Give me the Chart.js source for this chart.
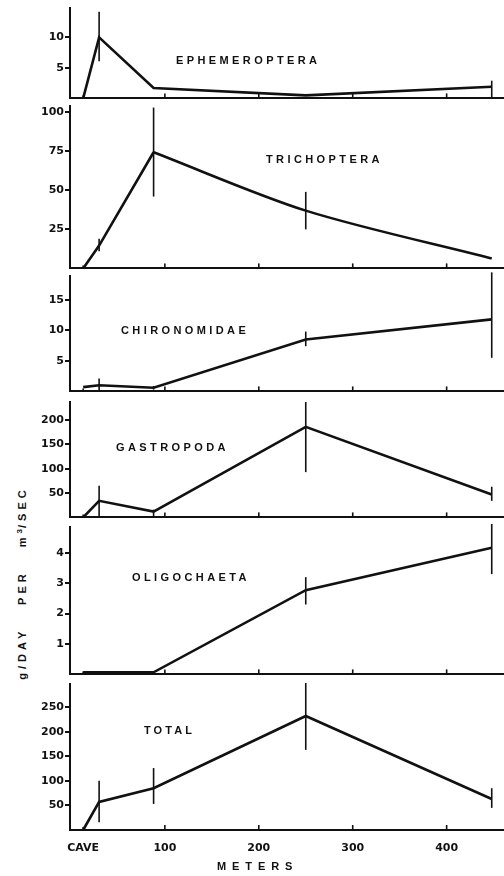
<!DOCTYPE html>
<html>
<head>
<meta charset="utf-8">
<title>Drift by distance from cave</title>
<script src="https://cdn.jsdelivr.net/npm/chart.js@4.4.1/dist/chart.umd.min.js"></script>
<style>
  html, body { margin: 0; padding: 0; background: #fff; }
  #fig { position: relative; width: 504px; height: 876px; overflow: hidden;
         font-family: "Liberation Sans", Arial, sans-serif; color: #111; }
  #fig canvas { position: absolute; left: 0; }
  .lbl { position: absolute; font-weight: bold; font-size: 11px; line-height: 11px;
         letter-spacing: 3.4px; white-space: pre; }
  #ytitle { position: absolute; left: 21px; top: 583px; font-weight: bold; font-size: 11px;
            line-height: 11px; letter-spacing: 4px; word-spacing: 16px; white-space: pre;
            transform: translate(-50%, -50%) rotate(-90deg); }
  #ytitle sup { font-size: 8px; letter-spacing: 1px; }
</style>
</head>
<body>
<div id="fig">
  <div id="ytitle">g/DAY PER m<sup>3</sup>/SEC</div>
</div>
<script>
// distancias de muestreo (m); la primera es la boca de la cueva
const DISTANCES = [13, 30, 88, 250, 448];
const X_TICKS = [13, 100, 200, 300, 400];
const CAVE_POS = 13;

// valores g/dia por m3/seg, y barras de error [bajo, alto]
const EPHEMEROPTERA = [0, 10, 1.7, 0.5, 1.9];
const EPHEMEROPTERA_ERR = [null, [6.1, 14.2], null, null, [0.2, 2.9]];
const EPHEMEROPTERA_TICKS = [5, 10];

const TRICHOPTERA = [0, 14.6, 74.4, 37, 6.4];
const TRICHOPTERA_ERR = [null, [11, 19], [46, 103], [25, 49], null];
const TRICHOPTERA_TICKS = [25, 50, 75, 100];

const CHIRONOMIDAE = [0.7, 1.0, 0.6, 8.5, 11.8];
const CHIRONOMIDAE_ERR = [null, [0, 2.1], [0.3, 0.9], [7.4, 9.8], [5.5, 19.5]];
const CHIRONOMIDAE_TICKS = [5, 10, 15];

const GASTROPODA = [0, 34, 12, 186, 47];
const GASTROPODA_ERR = [null, [0, 65], [2, 16], [93, 237], [34, 63]];
const GASTROPODA_TICKS = [50, 100, 150, 200];

const OLIGOCHAETA = [0.07, 0.07, 0.07, 2.77, 4.17];
const OLIGOCHAETA_ERR = [null, null, null, [2.3, 3.2], [3.3, 4.95]];
const OLIGOCHAETA_TICKS = [1, 2, 3, 4];

const TOTAL = [0, 57, 85, 232, 63];
const TOTAL_ERR = [null, [16, 100], [53, 126], [163, 299], [45, 85]];
const TOTAL_TICKS = [50, 100, 150, 200, 250];

const INK = "#111";

// paneles: posicion en px del eje (top/base), maximo del eje y, etiqueta
// curveFrom: a partir de ese punto la linea se dibuja curva (Trichoptera)
const PANELS = [
  { name: "EPHEMEROPTERA", values: EPHEMEROPTERA, errors: EPHEMEROPTERA_ERR, ticks: EPHEMEROPTERA_TICKS,
    yMax: 14.8, top: 8, base: 100, lx: 176, ly: 54.6 },
  { name: "TRICHOPTERA", values: TRICHOPTERA, errors: TRICHOPTERA_ERR, ticks: TRICHOPTERA_TICKS,
    yMax: 104, top: 106, base: 270, lx: 266, ly: 153.6, curveFrom: 2 },
  { name: "CHIRONOMIDAE", values: CHIRONOMIDAE, errors: CHIRONOMIDAE_ERR, ticks: CHIRONOMIDAE_TICKS,
    yMax: 18.9, top: 276, base: 393, lx: 121, ly: 324.6 },
  { name: "GASTROPODA", values: GASTROPODA, errors: GASTROPODA_ERR, ticks: GASTROPODA_TICKS,
    yMax: 237, top: 402, base: 519, lx: 116, ly: 442 },
  { name: "OLIGOCHAETA", values: OLIGOCHAETA, errors: OLIGOCHAETA_ERR, ticks: OLIGOCHAETA_TICKS,
    yMax: 4.85, top: 527, base: 676, lx: 132, ly: 571.5 },
  { name: "TOTAL", values: TOTAL, errors: TOTAL_ERR, ticks: TOTAL_TICKS,
    yMax: 297, top: 684, base: 830, lx: 144, ly: 725.3, last: true },
];

const tickFont = { family: "'DejaVu Sans', sans-serif", size: 11, weight: "bold" };

// barras de error + marcas internas del eje de distancia
const errorBars = {
  id: "errorBars",
  afterDatasetsDraw(chart, args, opts) {
    const { ctx, scales: { x, y }, chartArea } = chart;
    ctx.save();
    ctx.strokeStyle = INK;
    ctx.lineWidth = 1.6;
    opts.errors.forEach((e, i) => {
      if (!e) return;
      const px = x.getPixelForValue(DISTANCES[i]);
      ctx.beginPath();
      ctx.moveTo(px, y.getPixelForValue(e[0]));
      ctx.lineTo(px, y.getPixelForValue(e[1]));
      ctx.stroke();
    });
    X_TICKS.forEach((v) => {
      const px = x.getPixelForValue(v);
      const len = v === CAVE_POS ? 3 : 5;
      ctx.beginPath();
      ctx.moveTo(px, chartArea.bottom);
      ctx.lineTo(px, chartArea.bottom - len);
      ctx.stroke();
    });
    ctx.restore();
  },
};

function serie(points, tension) {
  return {
    data: points,
    showLine: true,
    borderColor: INK,
    borderWidth: 2.6,
    pointRadius: 0,
    tension: tension,
    clip: false,
  };
}

function crearPanel(p) {
  const fig = document.getElementById("fig");
  const padTop = 8;
  const padBottom = p.last ? 0 : 6;
  const xAxisH = p.last ? 30 : 0;
  const h = p.base - p.top + padTop + padBottom + xAxisH;

  const canvas = document.createElement("canvas");
  canvas.width = 504;
  canvas.height = h;
  canvas.style.top = p.top - padTop + "px";
  fig.appendChild(canvas);

  const lbl = document.createElement("div");
  lbl.className = "lbl";
  lbl.textContent = p.name;
  lbl.style.left = p.lx + "px";
  lbl.style.top = p.ly + "px";
  if (p.name === "TOTAL") lbl.style.letterSpacing = "3.1px";
  fig.appendChild(lbl);

  const pts = DISTANCES.map((d, i) => ({ x: d, y: p.values[i] }));
  let datasets;
  if (p.curveFrom != null) {
    // tramo recto hasta el pico, luego descenso suave
    datasets = [serie(pts.slice(0, p.curveFrom + 1), 0), serie(pts.slice(p.curveFrom), 0.3)];
  } else {
    datasets = [serie(pts, 0)];
  }

  new Chart(canvas, {
    type: "scatter",
    data: { datasets },
    options: {
      responsive: false,
      animation: false,
      devicePixelRatio: 1,
      layout: { padding: { top: padTop, bottom: padBottom, left: 0, right: 1 } },
      plugins: {
        legend: { display: false },
        tooltip: { enabled: false },
        errorBars: { errors: p.errors },
      },
      scales: {
        x: {
          type: "linear",
          min: -1,
          max: 460,
          grid: { display: false },
          border: { display: true, color: INK, width: 2 },
          ticks: {
            display: !!p.last,
            color: INK,
            font: tickFont,
            padding: 4,
            autoSkip: false,
            maxRotation: 0,
            callback: (v) => (v === CAVE_POS ? "CAVE" : v),
          },
          afterBuildTicks: (scale) => {
            scale.ticks = X_TICKS.map((v) => ({ value: v }));
          },
          afterFit: (scale) => {
            scale.height = xAxisH;
          },
        },
        y: {
          min: 0,
          max: p.yMax,
          grid: { drawOnChartArea: false, drawTicks: true, tickLength: 5, color: INK, lineWidth: 2 },
          border: { display: true, color: INK, width: 2 },
          ticks: { color: INK, font: tickFont, padding: 1 },
          afterBuildTicks: (scale) => {
            scale.ticks = p.ticks.map((v) => ({ value: v }));
          },
          afterFit: (scale) => {
            scale.width = 70;
          },
        },
      },
    },
    plugins: [errorBars],
  });
}

PANELS.forEach(crearPanel);

const meters = document.createElement("div");
meters.className = "lbl";
meters.textContent = "METERS";
meters.style.left = "217px";
meters.style.top = "861.3px";
meters.style.letterSpacing = "5.9px";
document.getElementById("fig").appendChild(meters);
</script>
</body>
</html>
